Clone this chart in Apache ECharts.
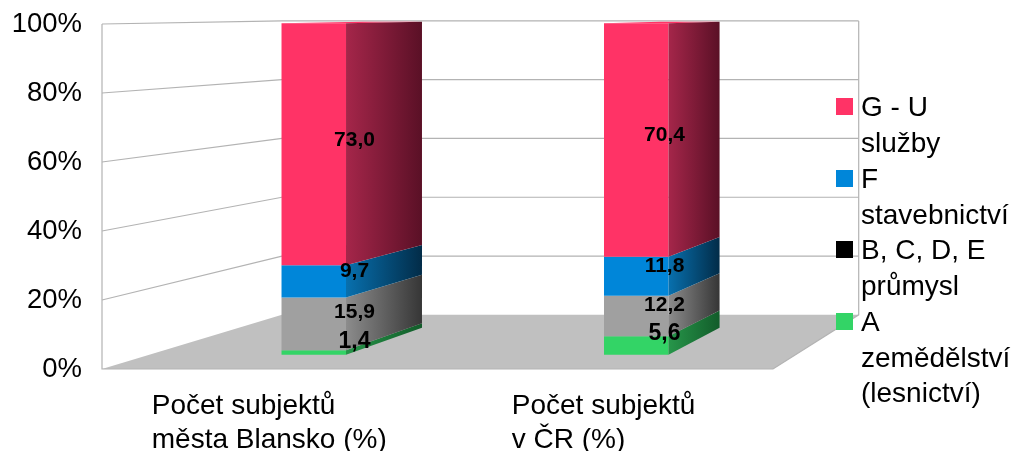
<!DOCTYPE html>
<html><head><meta charset="utf-8">
<style>html,body{margin:0;padding:0;background:#fff}#c{width:1011px;height:451px}</style>
<script src="https://cdn.jsdelivr.net/npm/echarts@6/dist/echarts.min.js"></script>
</head><body><div id="c"></div>
<script>
const categories = ['Počet subjektů\nměsta Blansko (%)', 'Počet subjektů\nv ČR (%)'];
const yTicks = [0, 20, 40, 60, 80, 100];
const sluzby = [73.0, 70.4];
const stavebnictvi = [9.7, 11.8];
const prumysl = [15.9, 12.2];
const zemedelstvi = [1.4, 5.6];

const FONT = '"Liberation Sans", Arial, sans-serif';
const VX = 1330, VY = 3;                 // vanishing point of the 3D scene
const S_WALLX = 0.8595, VX_WALL = 1383, S_WALL = 0.852, S_FRONT = 0.9612, S_BACK = 0.887;
const p3 = (x, y, s) => [VX + s * (x - VX), VY + s * (y - VY)];
const pw = (x, y) => [VX_WALL + S_WALLX * (x - VX_WALL), VY + S_WALL * (y - VY)];
const dec = v => v.toFixed(1).replace('.', ',');

function wallItem(params, api) {
  const v = api.value(1), g = params.coordSys;
  const y = api.coord([0, v])[1];
  const L = g.x, R = g.x + g.width;
  const c = [];
  const line = { stroke: '#b3b3b3', lineWidth: 1.2, fill: null };
  const a = [L, y], b = pw(L, y), d = pw(R, y);
  if (v === 0) {
    const top = api.coord([0, 100])[1];
    c.push({ type: 'polygon', shape: { points: [[L, y], [R, y], d, b] }, style: { fill: '#c0c0c0' } });
    c.push({ type: 'polyline', shape: { points: [[L, top], [L, y], [R, y], d, pw(R, top)] }, style: line });
  } else {
    c.push({ type: 'polyline', shape: { points: [a, b, d] }, style: line });
  }
  return { type: 'group', children: c };
}

function barSeries(name, values, below, legendColor, front, sideA, sideB, fontSize) {
  return {
    name, type: 'custom', coordinateSystem: 'cartesian2d', clip: false,
    itemStyle: { color: legendColor },
    z: 5,
    encode: { x: 0, y: [1, 2] },
    data: values.map((v, i) => [i, below[i], below[i] + v, v]),
    renderItem(params, api) {
      const i = api.value(0), v0 = api.value(1), v1 = api.value(2);
      const c0 = api.coord([i, v0]), c1 = api.coord([i, v1]);
      const half = api.size([1, 0])[0] * 0.1, cx = c0[0] + 3;
      const xl = cx - half, xr = cx + half;
      const f00 = p3(xl, c0[1], S_FRONT), f10 = p3(xr, c0[1], S_FRONT);
      const f01 = p3(xl, c1[1], S_FRONT), f11 = p3(xr, c1[1], S_FRONT);
      const b10 = p3(xr, c0[1], S_BACK), b11 = p3(xr, c1[1], S_BACK);
      const b01 = p3(xl, c1[1], S_BACK);
      const mid = p3(cx, (c0[1] + c1[1]) / 2, (S_FRONT + S_BACK) / 2);
      const kids = [];
      if (v1 >= 99.99) {
        kids.push({ type: 'polygon', shape: { points: [f01, f11, b11, b01] }, style: { fill: front } });
      }
      kids.push({ type: 'polygon', shape: { points: [f00, f10, f11, f01] }, style: { fill: front } });
      kids.push({ type: 'polygon', shape: { points: [f10, b10, b11, f11] }, style: {
        fill: { type: 'linear', x: 0, y: 0, x2: 1, y2: 0, colorStops: [
          { offset: 0, color: sideA }, { offset: 1, color: sideB }] } } });
      kids.push({ type: 'text', z2: 100, style: {
        text: dec(api.value(3)), x: mid[0] + 1.5, y: mid[1] + (v1 - v0 < 3 ? 3 : 1),
        align: 'center', verticalAlign: 'middle', fill: '#000',
        font: 'bold ' + fontSize + 'px ' + FONT } });
      return { type: 'group', children: kids };
    }
  };
}

const n = categories.length;
const b0 = new Array(n).fill(0);
const b1 = zemedelstvi.map((v, i) => b0[i] + v);
const b2 = prumysl.map((v, i) => b1[i] + v);
const b3 = stavebnictvi.map((v, i) => b2[i] + v);

const names = ['G - U\nslužby', 'F\nstavebnictví', 'B, C, D, E\nprůmysl', 'A\nzemědělství\n(lesnictví)'];
const legendTops = [98, 170, 241, 313];

function legendAt(name, iconTop) {
  const lines = name.split('\n');
  const LH = 35.5, EXTRA = 4;
  // blank lines above the text keep the icon level with the first line
  const blanks = new Array(lines.length - 1).fill(0).map((_, k) => '{' + (k === 0 ? 'g' : 't') + '| }');
  const h = (blanks.length + lines.length) * LH + EXTRA;
  const body = blanks.concat(lines.map(s => '{t|' + s + '}')).join('\n');
  const lineStyle = { padding: [0, 0, 0, 3], fontFamily: FONT, fontSize: 28, color: '#000' };
  return {
    show: true, orient: 'vertical', left: 836, padding: 0,
    top: iconTop + 8.5 - h / 2,
    itemWidth: 17, itemHeight: 17, selectedMode: false,
    data: [{ name, icon: 'rect' }],
    formatter: () => body,
    textStyle: {
      fontFamily: FONT, fontSize: 28, lineHeight: LH, color: '#000',
      rich: {
        t: Object.assign({ lineHeight: LH }, lineStyle),
        g: Object.assign({ lineHeight: LH + EXTRA }, lineStyle)
      }
    }
  };
}

const chart = echarts.init(document.getElementById('c'), null, { renderer: 'canvas' });
chart.setOption({
  animation: false,
  backgroundColor: '#fff',
  grid: { left: 102, right: 238, top: 24, bottom: 82, containLabel: false, outerBoundsMode: 'none' },
  legend: names.map((nm, i) => legendAt(nm, legendTops[i])),
  xAxis: {
    type: 'category', data: categories,
    axisLine: { show: false }, axisTick: { show: false }, splitLine: { show: false },
    axisLabel: {
      interval: 0, hideOverlap: false, margin: 21,
      formatter: (val, i) => val.split('\n').map(s => '{' + (i === 0 ? 'a' : 'b') + '|' + s + '}').join('\n'),
      rich: {
        a: { width: 236, align: 'left', fontFamily: FONT, fontSize: 28, lineHeight: 33.5, color: '#000' },
        b: { width: 187, align: 'left', fontFamily: FONT, fontSize: 28, lineHeight: 33.5, color: '#000' }
      }
    }
  },
  yAxis: {
    type: 'value', min: 0, max: 100, interval: 20,
    axisLine: { show: false }, axisTick: { show: false }, splitLine: { show: false },
    axisLabel: { formatter: '{value}%', margin: 20, padding: [2, 0, 0, 0], fontFamily: FONT, fontSize: 27.5, color: '#000' }
  },
  series: [
    { type: 'custom', name: 'walls', coordinateSystem: 'cartesian2d', clip: false, z: 1, silent: true,
      encode: { x: 0, y: 1 }, data: yTicks.map(v => [0, v]), renderItem: wallItem },
    barSeries(names[3], zemedelstvi, b0, '#33d466', '#33d466', '#27964a', '#125c2a', 23),
    barSeries(names[2], prumysl, b1, '#000000', '#a0a0a0', '#8c8c8c', '#363636', 21),
    barSeries(names[1], stavebnictvi, b2, '#0086d9', '#0086d9', '#0870ae', '#022c48', 21),
    barSeries(names[0], sluzby, b3, '#ff3366', '#ff3366', '#a5264a', '#5a1026', 21)
  ]
});
</script></body></html>
